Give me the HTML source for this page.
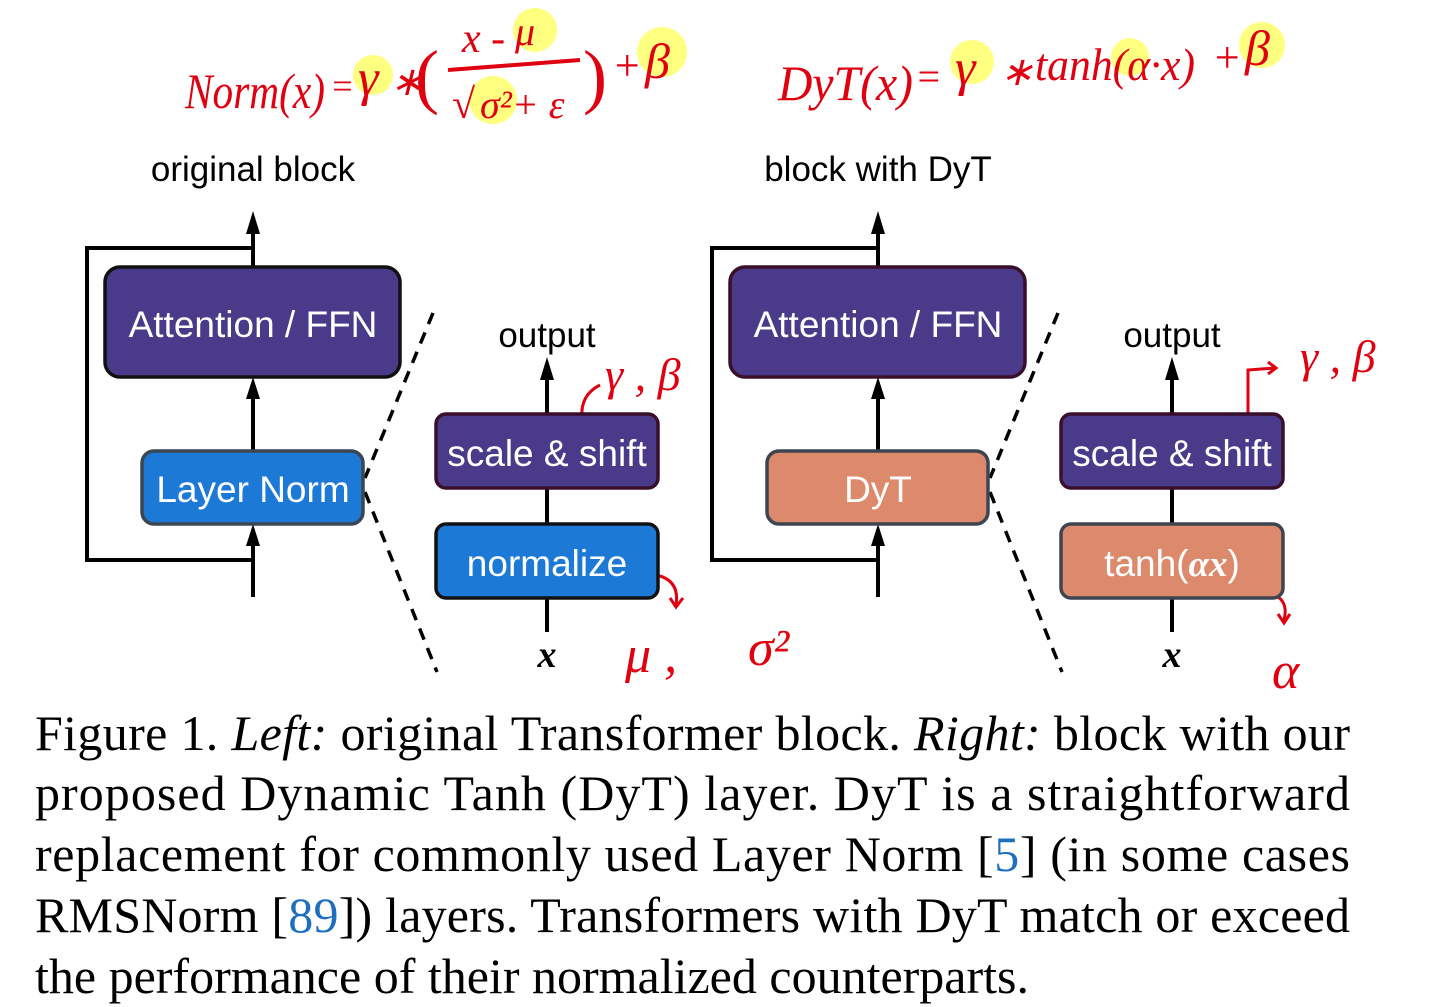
<!DOCTYPE html>
<html><head><meta charset="utf-8"><style>
html,body{margin:0;padding:0;background:#fff;width:1443px;height:1007px;overflow:hidden}
</style></head><body>
<svg width="1443" height="1007" viewBox="0 0 1443 1007" xmlns="http://www.w3.org/2000/svg">
<g fill="#ffff80">
<circle cx="373" cy="75" r="20"/><circle cx="535" cy="30" r="22"/><circle cx="493" cy="100" r="24"/><circle cx="662" cy="52" r="25"/>
<circle cx="972" cy="62" r="22"/><circle cx="1130" cy="57" r="19"/><circle cx="1262" cy="45" r="23"/>
</g>
<g fill="#e00010" font-family="Liberation Serif, serif" font-style="italic">
<text x="185" y="108" font-size="50" textLength="140" lengthAdjust="spacingAndGlyphs">Norm(x)</text>
<text x="330" y="98" font-size="36">=</text>
<text x="358" y="95" font-size="52">γ</text>
<text x="390" y="95" font-size="40">∗</text>
<text x="415" y="100" font-size="72" font-style="normal">(</text>
<text x="462" y="52" font-size="42">x -</text>
<text x="515" y="45" font-size="40">μ</text>
<path d="M448 70 L580 60" stroke="#e00010" stroke-width="4" fill="none"/>
<text x="452" y="118" font-size="42" font-style="normal">√</text>
<text x="480" y="118" font-size="40">σ²+ ε</text>
<text x="583" y="100" font-size="72" font-style="normal">)</text>
<text x="612" y="80" font-size="44">+</text>
<text x="645" y="78" font-size="50">β</text>
<text x="778" y="100" font-size="50" textLength="135" lengthAdjust="spacingAndGlyphs">DyT(x)</text>
<text x="915" y="90" font-size="40">=</text>
<text x="955" y="85" font-size="52">γ</text>
<text x="1000" y="85" font-size="40">∗</text>
<text x="1035" y="80" font-size="46" textLength="160" lengthAdjust="spacingAndGlyphs">tanh(α·x)</text>
<text x="1212" y="72" font-size="44">+</text>
<text x="1245" y="65" font-size="50">β</text>
<text x="605" y="390" font-size="46">γ ,  β</text>
<text x="1300" y="372" font-size="46">γ ,  β</text>
<text x="625" y="672" font-size="52">μ ,</text>
<text x="748" y="665" font-size="52">σ²</text>
<text x="1272" y="688" font-size="52">α</text>
</g>
<g stroke="#e00010" stroke-width="3" fill="none">
<path d="M582 418 Q580 395 600 385"/>
<path d="M1248 418 L1248 370 L1275 368 M1268 362 L1276 368 L1268 374"/>
<path d="M656 575 Q680 580 676 605 M670 598 L676 607 L683 598"/>
<path d="M1266 592 Q1290 597 1284 620 M1278 614 L1284 623 L1290 614"/>
</g>
<g font-family="Liberation Sans, sans-serif" font-size="35" text-anchor="middle">
<text x="253" y="181">original block</text>
<text x="878" y="181">block with DyT</text>
<text x="547" y="347">output</text>
<text x="1172" y="347">output</text>
</g>
<g stroke="#000" stroke-width="4" fill="none">
<path d="M253 248 L87 248 L87 560 L253 560"/>
<line x1="253" y1="597" x2="253" y2="530"/>
<line x1="253" y1="451" x2="253" y2="385"/>
<line x1="253" y1="267" x2="253" y2="225"/>
<line x1="547" y1="632" x2="547" y2="598"/>
<line x1="547" y1="524" x2="547" y2="488"/>
<line x1="547" y1="414" x2="547" y2="370"/>
<path d="M878 248 L712 248 L712 560 L878 560"/>
<line x1="878" y1="597" x2="878" y2="530"/>
<line x1="878" y1="451" x2="878" y2="385"/>
<line x1="878" y1="267" x2="878" y2="225"/>
<line x1="1172" y1="632" x2="1172" y2="598"/>
<line x1="1172" y1="524" x2="1172" y2="488"/>
<line x1="1172" y1="414" x2="1172" y2="370"/>
</g>
<g fill="#000">
<path d="M246 546 L253 524 L260 546 Z"/>
<path d="M246 399 L253 377 L260 399 Z"/>
<path d="M246 234 L253 211 L260 234 Z"/>
<path d="M540 380 L547 357 L554 380 Z"/>
<path d="M871 546 L878 524 L885 546 Z"/>
<path d="M871 399 L878 377 L885 399 Z"/>
<path d="M871 234 L878 211 L885 234 Z"/>
<path d="M1165 380 L1172 357 L1179 380 Z"/>
</g>
<g stroke="#000" stroke-width="3.5" stroke-dasharray="12,9" fill="none">
<line x1="433" y1="313" x2="365" y2="478"/><line x1="365" y1="492" x2="437" y2="672"/>
<line x1="1058" y1="313" x2="990" y2="478"/><line x1="990" y1="492" x2="1062" y2="672"/>
</g>
<g stroke-width="3.5">
<rect x="105" y="267" width="295" height="110" rx="15" fill="#4a3b8a" stroke="#111"/>
<rect x="142" y="451" width="221" height="73" rx="12" fill="#1c7ad6" stroke="#3d4550"/>
<rect x="436" y="414" width="222" height="74" rx="10" fill="#4a3b8a" stroke="#3a0f2a"/>
<rect x="436" y="524" width="222" height="74" rx="10" fill="#1c7ad6" stroke="#111"/>
<rect x="730" y="267" width="295" height="110" rx="15" fill="#4a3b8a" stroke="#3a0f2a"/>
<rect x="767" y="451" width="221" height="73" rx="12" fill="#dc8a6b" stroke="#3d4550"/>
<rect x="1061" y="414" width="222" height="74" rx="10" fill="#4a3b8a" stroke="#3a0f2a"/>
<rect x="1061" y="524" width="222" height="74" rx="10" fill="#dc8a6b" stroke="#3d4550"/>
</g>
<g font-family="Liberation Sans, sans-serif" font-size="37" fill="#fff" text-anchor="middle">
<text x="253" y="337">Attention / FFN</text>
<text x="253" y="502">Layer Norm</text>
<text x="547" y="466">scale &amp; shift</text>
<text x="547" y="576">normalize</text>
<text x="878" y="337">Attention / FFN</text>
<text x="878" y="502">DyT</text>
<text x="1172" y="466">scale &amp; shift</text>
<text x="1172" y="576">tanh(<tspan font-family="Liberation Serif, serif" font-style="italic" font-weight="bold">αx</tspan>)</text>
</g>
<g font-family="Liberation Serif, serif" font-size="38" font-style="italic" font-weight="bold" text-anchor="middle">
<text x="547" y="667">x</text><text x="1172" y="667">x</text>
</g>
<g font-family="Liberation Serif, serif" font-size="50" fill="#000">
<text x="35" y="750" textLength="1315" lengthAdjust="spacing">Figure 1. <tspan font-style="italic">Left:</tspan> original Transformer block. <tspan font-style="italic">Right:</tspan> block with our</text>
<text x="35" y="810" textLength="1315" lengthAdjust="spacing">proposed Dynamic Tanh (DyT) layer.  DyT is a straightforward</text>
<text x="35" y="871" textLength="1315" lengthAdjust="spacing">replacement for commonly used Layer Norm [<tspan fill="#1f6fbf">5</tspan>] (in some cases</text>
<text x="35" y="932" textLength="1315" lengthAdjust="spacing">RMSNorm [<tspan fill="#1f6fbf">89</tspan>]) layers. Transformers with DyT match or exceed</text>
<text x="35" y="993">the performance of their normalized counterparts.</text>
</g>
</svg>
</body></html>
